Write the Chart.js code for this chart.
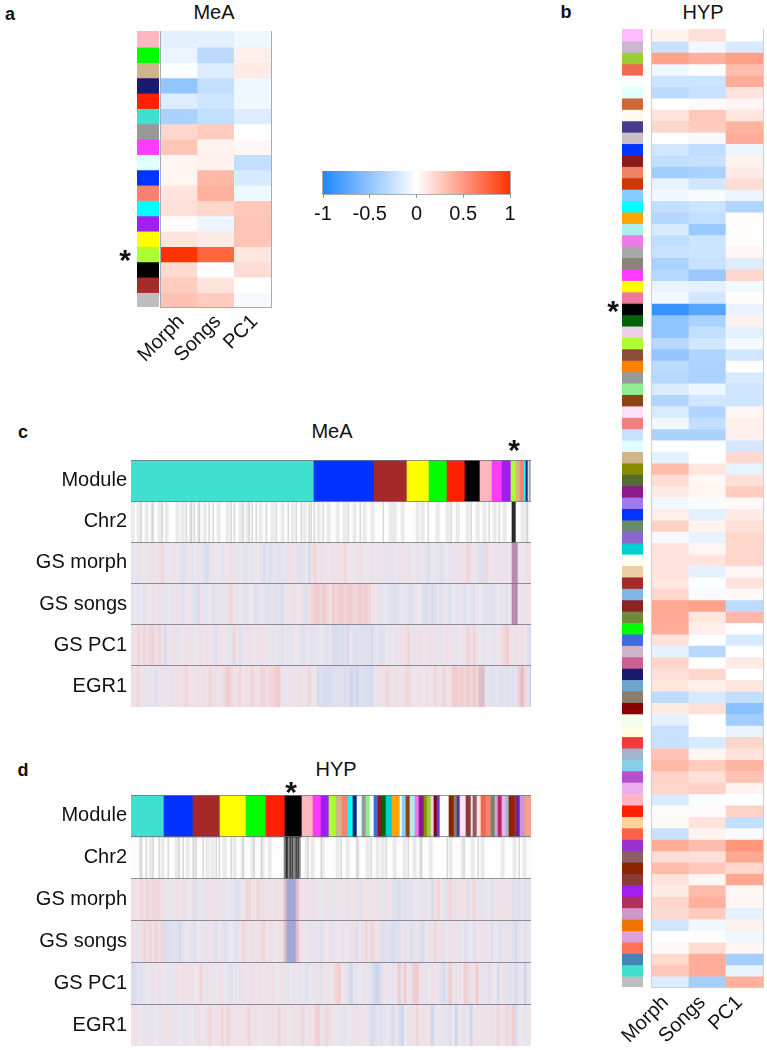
<!DOCTYPE html>
<html>
<head>
<meta charset="utf-8">
<title>MeA HYP modules</title>
<script src="https://cdn.jsdelivr.net/npm/chart.js@4/dist/chart.umd.min.js"></script>
<style>
html,body{margin:0;padding:0;background:#fff;overflow:hidden;}
#page{position:relative;width:767px;height:1050px;font-family:"Liberation Sans",Arial,sans-serif;color:#111;}
canvas{position:absolute;}
.txt{position:absolute;transform:translate(-50%,-50%);white-space:nowrap;}
</style>
</head>
<body>
<div id="page"></div>
<script>
//panel a, MeA modules
var meaColors=['#ffb6c1','#00ff00','#d2b48c','#191970','#ff2000','#40e0d0','#999999','#ff3cff','#e0ffff','#0033ff','#fa8072','#00ffff','#a020f0','#ffff00','#adff2f','#000000','#a52a2a','#bebebe'];
var meaMorph=[-.13,-.09,-.01,-.48,-.15,-.38,.2,.28,.05,.05,.13,.15,.02,.13,1,.18,.25,.3];
var meaSongs=[-.13,-.3,-.15,-.27,-.22,-.27,.25,.06,.07,.35,.38,.2,-.09,.1,.75,-.01,.13,.25];
var meaPC1=[-.07,.08,.1,-.07,-.07,-.15,0,.04,-.27,-.18,-.07,.27,.28,.28,.12,.17,0,-.04];

//panel b, HYP modules
var hypColors=['#ffbbff','#cdb5cd','#9acd32','#ee6a50','#ffffff','#e0ffff','#cd6839','#fffaf0','#483d8b','#cdc1c5','#0033ff','#8b1a1a','#ee8262','#cd3700','#87ceff','#00ffff','#ffa500','#afeeee','#ee7ae9','#a9a9a9','#8b8378','#ff3cff','#ffff00','#ee799f','#000000','#006400','#eecfe8','#adff2f',
'#8b4c39','#ff7f00','#999999','#90ee90','#8b4513','#ffe1ff','#f08080','#c6e2ff','#e0ffff','#d2b48c','#8b8b00','#556b2f','#8b1a8b','#9f79ee','#0033ff','#698b69','#8968cd','#00ced1','#fffff0','#eecfa1','#a52a2a','#7eb6e8','#8b2323','#6e8b3d','#00ff00','#4169e1','#cdb5cd','#cd6090','#191970','#6ca6cd',
'#8b7d6b','#8b0000','#f0fff0','#ffffe0','#ee3b3b','#a2b5cd','#87ceeb','#b452cd','#eeaeee','#ffb6c1','#ff2000','#ffd39b','#ff6347','#9a32cd','#8b5f65','#8b2500','#8b3a3a','#a020f0','#b03060','#cd96cd','#ee7600','#dda0dd','#ff7256','#4682b4','#40e0d0','#bebebe'];
var hypMorph=[.06,-.25,.45,-.07,-.23,-.3,0,.13,.2,0,-.2,-.27,-.42,-.1,-.06,-.27,-.33,-.18,-.28,-.25,-.38,-.33,-.1,-.06,-.9,-.5,-.5,-.32,
-.48,-.3,-.33,-.17,-.35,-.17,-.06,-.37,0,-.12,.33,.17,.1,-.06,.08,.23,-.03,.14,.14,.14,.12,.2,.42,.42,.4,.14,-.12,.2,.15,.12,
-.3,.1,-.12,-.25,-.25,.3,.35,.22,.2,-.17,.02,.03,-.25,.4,.17,.33,.14,.1,.2,.18,-.2,0,.03,.18,.27,-.15];
var hypSongs=[.15,-.06,.38,-.02,-.23,-.25,.02,.27,.25,-.04,-.28,-.25,-.38,-.2,-.03,-.23,-.27,-.45,-.23,-.23,-.25,-.45,-.12,-.2,-.75,-.38,-.27,-.2,
-.35,-.37,-.37,-.08,-.2,-.35,-.27,-.37,0,0,.12,.04,.05,-.03,-.12,.06,-.1,.05,.13,-.12,-.02,-.03,.45,.12,.08,0,-.32,0,.2,.08,
-.18,.15,0,0,-.17,.05,.25,.15,.22,-.02,.02,.14,.06,.32,.15,.27,.05,.33,.38,.25,-.06,-.02,.17,.4,.4,-.4];
var hypPC1=[0,-.17,.47,.32,.4,.14,.05,.12,.37,.4,-.08,.06,.1,.17,-.09,-.35,.01,.01,.01,.05,-.15,.2,-.05,.01,-.1,.07,-.12,-.05,
-.2,0,-.18,-.22,-.22,.05,.08,.08,-.2,.18,-.1,.15,.25,.03,.1,.15,.2,.2,.2,.04,.13,.03,-.3,.35,0,-.17,0,.1,0,.12,
-.27,-.52,-.42,-.1,.2,.14,.37,.3,.06,-.01,.22,-.27,-.03,.52,.42,.2,.43,.04,.05,-.12,.07,-.07,.04,-.4,-.1,.38];

//colour key
var keyTicks=[-1,-.5,0,.5,1];

//panels c and d rows
var stripRows=['Module','Chr2','GS morph','GS songs','GS PC1','EGR1'];
var cModuleColors=['#40e0d0','#0033ff','#a52a2a','#ffff00','#00ff00','#ff2000','#000000','#ffb6c1','#ff3cff','#a020f0','#adff2f','#d2b48c','#fa8072','#00ffff','#191970','#e0ffff','#999999','#bebebe'];
var cModuleSizes=[183,60,33,22,18,18,15,12,10,9,5,4,4,2,2,1,1,1];
var cChr2Light=[0,6,14,20,27,34,45,50,58,66,72,86,95,108,115,128,140,150,160,172,186,196,205,212,222,232,240,258,262,270,285,290,305,315,325,335,345,352,362,372,390,394];
var cChr2Dark=[10,21,31,55,60,63,68,78,82,100,103,112,118,121,125,135,145,157,165,170,178,180,183,192,217,229,252,297,320,340,358,368,396];
var cChr2Band=[];
var cChr2Dense=[381,382,383,384];
var cMorph=[-1,1,-1,1,0,1,-1,2,1,2,3,-1,1,0,1,1,-1,-2,-1,1,-1,0,-1,1,-2,-3,-1,1,1,0,-1,1,1,2,1,-1,0,-1,-1,0,-1,0,1,-1,-3,-1,-2,-1,-1,-2,-1,-1,2,2,1,-1,-2,-1,0,-3,2,3,1,2,1,1,0,
2,1,2,1,3,1,0,0,1,2,1,0,1,-1,0,1,1,-1,1,-1,-1,0,2,1,1,-1,1,0,-1,1,0,-1,-2,0,1,-1,-2,-1,0,-1,1,-1,1,2,2,3,2,1,-1,-2,-2,3,1,0,1,1,-1,1,1,1,6,6,1,0,1,2,1];
var cSongs=[-1,0,-1,0,-1,1,0,-1,1,2,1,-1,0,-1,1,2,-1,-2,0,1,-1,-2,-3,2,-1,-1,0,-2,-1,1,-1,-1,2,3,1,-1,0,-1,-1,1,0,-2,-1,0,-1,-2,-1,-1,-2,-1,-3,0,1,1,2,1,1,-1,-2,2,3,4,4,3,4,3,2,
4,3,4,4,3,4,4,3,3,4,3,4,3,2,1,-1,-1,0,-1,-2,-2,-2,-1,0,-1,-1,-2,-1,1,0,-2,-3,-1,-3,-2,1,-2,1,-1,-2,0,-1,1,-1,-2,0,-1,-2,1,0,-1,-2,-1,-2,-1,0,-1,1,-1,0,6,6,0,-1,1,2,0];
var cPC1=[2,1,3,2,3,2,3,3,2,3,2,-3,1,1,2,-1,1,0,2,1,-1,0,1,2,1,2,1,-1,-2,1,2,0,-1,-1,3,1,-2,1,-1,2,1,0,1,2,1,1,0,-1,1,-1,-2,1,-1,-1,0,1,-1,-2,-1,1,-2,-1,-1,0,-1,-2,1,
-3,-3,-2,-3,-2,-3,1,-2,-2,-2,-2,-2,-2,-3,-1,-1,-2,-1,0,-1,0,1,1,2,2,3,1,-1,1,2,1,1,2,2,-1,1,-1,1,2,1,1,-1,0,1,2,3,2,3,1,0,-1,1,0,-1,-1,1,2,3,4,2,1,2,1,2,1,-2,-3];
var cEgr1=[2,1,3,1,-1,1,-1,-1,-2,1,1,-1,1,-1,2,2,1,2,3,2,1,1,2,1,2,1,3,2,2,1,2,3,4,3,1,2,3,1,2,2,3,2,1,3,3,2,3,3,4,4,1,-1,1,1,-1,1,2,1,1,3,1,0,-3,-2,-3,-3,-3,
-2,-2,-2,-2,-3,-2,-4,-3,-4,-2,-2,-3,-3,-3,1,2,1,2,3,2,1,2,1,1,2,3,-1,1,1,1,0,2,1,1,3,1,2,3,1,2,4,4,3,4,3,4,3,4,3,5,5,-1,-1,-2,-1,-1,-2,-1,-2,-1,-2,-1,4,5,3,-1,-5];

var dModuleColors=['#40e0d0','#0033ff','#a52a2a','#ffff00','#00ff00','#ff2000','#000000','#ffb6c1','#ff3cff','#a020f0','#adff2f','#d2b48c','#fa8072','#00ffff','#191970','#e0ffff','#999999','#90ee90','#f0fff0','#4169e1','#8b1a1a','#006400','#00ced1','#ffa500','#ffffff','#87ceff','#8b4513','#afeeee','#ee7ae9','#8b1a8b','#8b8b00','#9acd32','#eecfe8','#8b0000','#5d3fd3','#ffffff','#8b2500','#8b7d6b','#483d8b','#ffe1ff','#8b3a3a','#eee0e5','#8b5f65','#ffe4e1','#ee6a50','#fa8072','#698b69','#dda0dd','#b03060','#eeaeee','#a2b5cd','#8b2500','#a52a2a','#5d20d0','#cd96cd','#f4a090'];
var dModuleSizes=[33,29,27,26,20,19,17,11,8,8,7,6,6,5,4,5,4,4,4,4,4,4,6,8,2,4,4,5,4,5,3,4,3,3,3,9,5,3,3,6,5,2,4,4,5,5,4,3,4,4,3,5,3,3,5,6];
var dChr2Light=[8,18,30,44,55,62,75,80,92,102,110,120,130,137,174,180,190,205,215,225,235,245,250,262,272,282,288,298,318,330,340,350,370,382,392];
var dChr2Dark=[10,15,22,28,37,48,52,62,65,72,85,88,100,112,123,130,177,190,210,226,240,255,277,290,316,333,347,388];
var dChr2Band=[153,154,155,156,157,158,159,160,161,162,163,164,165,166,167,168,169];
var dChr2Dense=[155,156,159,161,165,167];
var dMorph=[2,2,1,3,2,3,2,3,3,3,2,-1,1,0,1,2,1,2,-1,0,2,-2,-1,1,-1,2,2,1,2,1,-1,1,0,-1,-1,-2,-1,1,3,3,2,1,3,2,2,1,2,1,2,1,2,5,-6,-6,-6,5,2,1,2,1,2,-1,1,0,-1,2,1,-1,0,1,1,-1,2,1,2,-1,-2,1,2,1,1,1,2,-1,-1,2,1,-2,-2,-3,-1,-2,-1,-2,1,0,-1,2,-1,1,-3,2,3,1,-1,-2,3,2,-1,1,2,2,-2,1,3,1,-1,-1,1,0,-2,1,2,1,1,2,1,-2,-1,-2,1,-2,-1,2];
var dSongs=[2,1,-1,2,3,2,3,2,3,2,3,-3,-2,-2,-1,-2,-3,-1,0,1,-1,-2,0,1,-1,2,1,-1,-2,0,-1,-2,-1,0,-1,-2,1,3,2,1,2,1,1,2,3,1,2,1,0,2,1,5,-6,-6,-6,5,2,1,0,2,-1,-1,1,-2,1,0,2,-1,1,0,-1,1,1,-1,2,-2,1,2,3,2,3,2,1,-2,-2,-1,-2,-3,-2,-2,1,-1,1,-2,-1,1,-2,-3,0,2,1,3,1,2,-1,0,1,2,1,-1,0,-2,-1,0,-2,1,2,1,-1,1,-2,0,-1,-2,1,2,-1,-2,-3,-1,1,-2,-1,0];
var dPC1=[-3,-3,-1,-2,-1,0,1,-1,1,2,1,0,-1,1,-1,2,1,2,1,2,2,0,1,3,1,-1,1,-1,0,1,2,0,-1,-2,1,-1,-1,2,1,2,2,1,1,2,0,1,1,2,0,1,2,-1,-1,0,-1,1,-1,0,-2,-1,1,-1,1,-2,1,2,0,1,3,4,1,2,-2,-4,-1,-1,0,-1,1,-1,-2,-4,-4,-2,1,1,0,-1,1,4,-1,4,1,-1,4,4,2,1,-1,0,2,1,1,-2,-3,-1,4,2,-1,1,1,4,3,-1,2,4,1,-1,1,-2,1,0,-3,1,2,-1,-2,-1,-3,-1,1,-4,-1,1];
var dEgr1=[1,2,1,0,-1,1,-1,1,0,-1,-1,1,2,1,-1,1,0,-1,-1,1,0,-1,2,1,1,2,3,1,2,1,3,2,3,2,1,1,2,1,2,3,1,2,1,0,2,1,2,2,1,3,1,2,0,1,2,1,2,3,1,2,1,3,4,2,-1,3,2,1,0,1,-1,-1,0,1,1,2,1,0,1,-1,-3,-2,-1,-2,-1,0,-1,-3,1,-2,-4,0,1,2,1,3,1,2,1,2,-4,-1,0,1,-1,-1,-2,0,-4,0,1,-1,1,-4,1,2,1,2,1,1,2,1,3,1,2,3,2,4,-3,1,0,-1,1,0];

//blue - white - red
var lowEnd=[30,136,255],highEnd=[255,51,0];
function corrColor(v){
	var c=v<0?lowEnd:highEnd,t=Math.min(Math.abs(v),1);
	return 'rgb('+Math.round(255+(c[0]-255)*t)+','+Math.round(255+(c[1]-255)*t)+','+Math.round(255+(c[2]-255)*t)+')';
}
//shades used by the GS and EGR1 strips, index is value+6
var gsShades=['#a0a6d6','#c4cce8','#ced6ec','#d8dcee','#dfe0ee','#e5e3ee','#ebe7ee','#eee3ea','#f0dfe4','#f1d6d9','#f0cccf','#e0bcc8','#b88cb0'];

var page=document.getElementById('page');
function addCanvas(left,top,w,h){
	var c=document.createElement('canvas');
	c.style.left=left+'px';
	c.style.top=top+'px';
	c.style.width=w+'px';
	c.style.height=h+'px';
	c.width=w;
	c.height=h;
	page.appendChild(c);
	return c;
}
function addText(text,x,y,size,bold){
	var d=document.createElement('div');
	d.className='txt';
	d.textContent=text;
	d.style.left=x+'px';
	d.style.top=y+'px';
	d.style.fontSize=size+'px';
	if(bold)d.style.fontWeight='bold';
	page.appendChild(d);
}
var frame={id:'frame',afterDraw:function(chart,args,opts){
	if(!opts.color)return;
	var a=chart.chartArea,ctx=chart.ctx;
	ctx.save();
	ctx.strokeStyle=opts.color;
	ctx.lineWidth=1;
	ctx.strokeRect(Math.round(a.left)-.5,Math.round(a.top)-.5,a.width+1,a.height+1);
	ctx.restore();
}};
function noPadding(s){
	s.paddingLeft=0;s.paddingRight=0;s.paddingTop=0;s.paddingBottom=0;
}

//rows x columns, one dataset a row
function heatChart(box,labels,rowColors,frameColor){
	var sets=[];
	for(var r=0;r<rowColors.length;r++){
		var vals=[];
		for(var k=0;k<labels.length;k++)vals.push([r,r+1.06]);
		sets.push({data:vals,backgroundColor:rowColors[r],borderWidth:0,barPercentage:1,categoryPercentage:1});
	}
	return new Chart(addCanvas(box.left,box.top,box.w,box.h),{
		type:'bar',
		data:{labels:labels,datasets:sets},
		plugins:[frame],
		options:{
			responsive:false,animation:false,
			layout:{padding:{left:box.padL,right:box.padR,top:0,bottom:0}},
			plugins:{legend:{display:false},tooltip:{enabled:false},title:{display:false},frame:{color:frameColor}},
			scales:{
				x:{stacked:true,display:box.axis>0,grid:{display:false},border:{display:false},
					ticks:{color:'#111',font:{family:'Liberation Sans',size:20},minRotation:45,maxRotation:45,autoSkip:false,padding:box.tickPad,labelOffset:box.shift},
					afterFit:function(s){s.height=box.axis;noPadding(s);}},
				y:{display:false,reverse:true,min:0,max:rowColors.length}
			}
		}
	});
}
function rowsFromColumns(cols){
	return cols[0].map(function(_,r){
		return cols.map(function(c){return c[r];});
	});
}
function colorRows(rows){
	return rows.map(function(row){return row.map(corrColor);});
}
var heatLabels=['Morph','Songs','PC1'];
heatChart({left:120,top:31,w:180,h:336,padL:41,padR:29,axis:60,tickPad:-5,shift:2},heatLabels,colorRows(rowsFromColumns([meaMorph,meaSongs,meaPC1])),'rgba(140,150,175,.8)');
heatChart({left:137,top:31,w:22,h:276,padL:0,padR:0,axis:0,tickPad:0,shift:0},[''],meaColors.map(function(c){return [c];}),null);
heatChart({left:600,top:29,w:167,h:1021,padL:52,padR:4,axis:63,tickPad:-4,shift:-5},heatLabels,colorRows(rowsFromColumns([hypMorph,hypSongs,hypPC1])),'rgba(170,175,190,.6)');
heatChart({left:622,top:29,w:21,h:958,padL:0,padR:0,axis:0,tickPad:0,shift:0},[''],hypColors.map(function(c){return [c];}),null);

//colour key with its own axis
new Chart(addCanvas(290,171,250,60),{
	type:'bar',
	data:{labels:[''],datasets:[{
		data:[[keyTicks[0],keyTicks[keyTicks.length-1]]],
		borderWidth:0,barPercentage:1,categoryPercentage:1,
		backgroundColor:function(ctx){
			var a=ctx.chart.chartArea;
			if(!a)return '#fff';
			var g=ctx.chart.ctx.createLinearGradient(a.left,0,a.right,0);
			keyTicks.forEach(function(t){g.addColorStop((t+1)/2,corrColor(t));});
			return g;
		}
	}]},
	plugins:[frame],
	options:{
		indexAxis:'y',responsive:false,animation:false,
		layout:{padding:{left:33,right:30,top:0,bottom:0}},
		plugins:{legend:{display:false},tooltip:{enabled:false},frame:{color:'rgba(150,150,150,.8)'}},
		scales:{
			y:{display:false},
			x:{type:'linear',min:-1,max:1,
				afterBuildTicks:function(s){s.ticks=keyTicks.map(function(t){return {value:t};});},
				grid:{drawOnChartArea:false,tickLength:4,color:'#999'},border:{display:false},
				ticks:{color:'#111',font:{family:'Liberation Sans',size:20},padding:4,maxRotation:0,autoSkip:false,
					callback:function(v){return String(v);}},
				afterFit:function(s){s.height=37;noPadding(s);}}
		}
	}
});

//one bar per pixel column, one stacked dataset per row
function moduleColumn(colors,sizes){
	var out=[];
	sizes.forEach(function(n,i){
		for(var k=0;k<n;k++)out.push(colors[i]);
	});
	return out;
}
function chr2Column(n,light,dark,band,dense){
	var out=[];
	for(var i=0;i<n;i++)out.push('#fdfdfd');
	light.forEach(function(p){for(var k=0;k<4;k++)out[p+k]='#eaeaea';});
	dark.forEach(function(p){out[p]='#c6c6c6';});
	band.forEach(function(p){out[p]='#8a8a8a';});
	dense.forEach(function(p){out[p]='#2a2a2a';});
	return out.slice(0,n);
}
function gsColumn(n,vals){
	var out=[];
	for(var i=0;i<n;i++){
		var v=vals[Math.floor(i/3)];
		out.push(gsShades[(v===undefined?0:v)+6]);
	}
	return out;
}
function stripChart(top,h,rowColors){
	var n=rowColors[0].length,cols=[],sets=[];
	for(var i=0;i<n;i++)cols.push(i);
	rowColors.forEach(function(c){
		sets.push({data:cols.map(function(){return 1;}),backgroundColor:c,borderWidth:0,barPercentage:1,categoryPercentage:1});
	});
	return new Chart(addCanvas(0,top,531,h),{
		type:'bar',
		data:{labels:cols,datasets:sets},
		options:{
			responsive:false,animation:false,
			layout:{padding:0},
			plugins:{legend:{display:false},tooltip:{enabled:false}},
			scales:{
				x:{stacked:true,display:false},
				y:{stacked:true,reverse:true,min:0,max:stripRows.length,position:'left',
					grid:{z:1,color:'rgba(110,110,130,.75)',lineWidth:1,drawTicks:false},border:{display:false},
					ticks:{display:false,stepSize:1},
					afterFit:function(s){s.width=0;noPadding(s);}},
				rowNames:{type:'category',labels:stripRows,position:'left',offset:true,
					grid:{display:false,drawTicks:false},border:{display:false},
					ticks:{color:'#111',font:{family:'Liberation Sans',size:20},padding:4,autoSkip:false},
					afterFit:function(s){s.width=131;noPadding(s);}}
			}
		}
	});
}
stripChart(460,247,[moduleColumn(cModuleColors,cModuleSizes),chr2Column(400,cChr2Light,cChr2Dark,cChr2Band,cChr2Dense),gsColumn(400,cMorph),gsColumn(400,cSongs),gsColumn(400,cPC1),gsColumn(400,cEgr1)]);
stripChart(795,251,[moduleColumn(dModuleColors,dModuleSizes),chr2Column(400,dChr2Light,dChr2Dark,dChr2Band,dChr2Dense),gsColumn(400,dMorph),gsColumn(400,dSongs),gsColumn(400,dPC1),gsColumn(400,dEgr1)]);

//titles, panel letters, stars
addText('a',10,14,18,true);
addText('b',566,12,18,true);
addText('c',23,432,18,true);
addText('d',23,770,18,true);
addText('MeA',214,12,20);
addText('HYP',703,12,20);
addText('MeA',332,431,20);
addText('HYP',336,769,20);
addText('*',125,260,30,true);
addText('*',613,311,30,true);
addText('*',514,450,30,true);
addText('*',291,792,30,true);
</script>
</body>
</html>
